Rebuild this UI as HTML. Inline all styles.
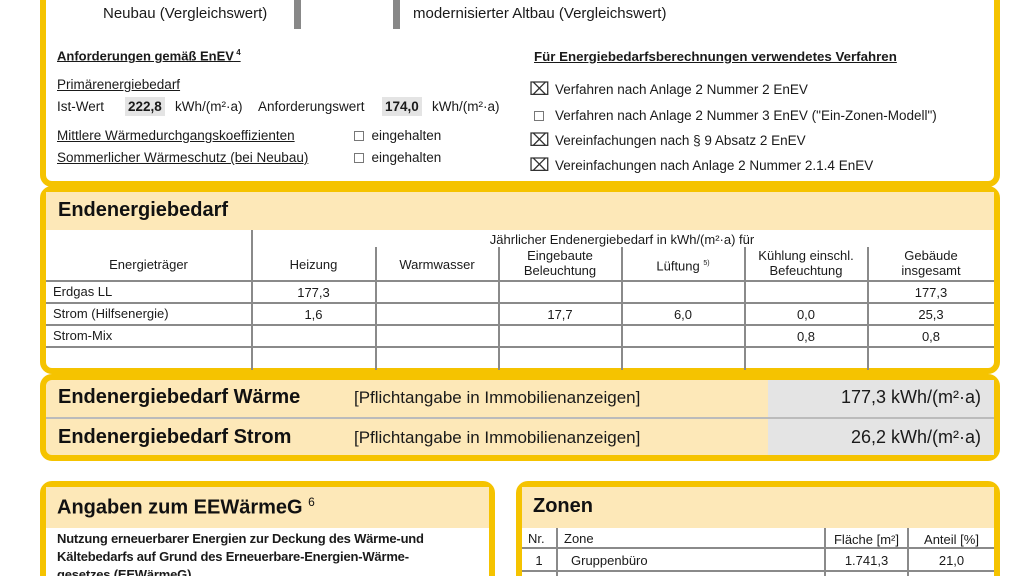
<!DOCTYPE html>
<html style="height:576px;overflow:hidden"><head><meta charset="utf-8"><style>
*{margin:0;padding:0;box-sizing:border-box}
body{width:1024px;height:576px;background:#fff;position:relative;overflow:hidden;font-family:"Liberation Sans",Arial,sans-serif;color:#1a1a1a}
.a{position:absolute;white-space:nowrap}
.box{position:absolute;border:6px solid #f5c300;border-radius:12px;background:#fff;overflow:hidden}
.band{position:absolute;background:#fde8b8}
.h{position:absolute;font-weight:bold;font-size:20px;color:#111}
.s{font-size:13.5px}
.u{text-decoration:underline}
.hl{position:absolute;height:2px;background:#8a8a8a}
.vl{position:absolute;width:2px;background:#8a8a8a}
.c{position:absolute;text-align:center;font-size:13px;line-height:15px}
.cb{display:inline-block;width:10px;height:10px;border:1px solid #777;vertical-align:-1px}
.x{position:absolute;font-size:18px;color:#333;line-height:18px}
</style></head><body>

<div class="box" style="left:40px;top:-20px;width:960px;height:207px"></div>
<div class="a" style="left:294px;top:0;width:7px;height:29px;background:#888"></div>
<div class="a" style="left:393px;top:0;width:7px;height:29px;background:#888"></div>
<div class="a" style="left:103px;top:5px;font-size:15px">Neubau (Vergleichswert)</div>
<div class="a" style="left:413px;top:5px;font-size:15px">modernisierter Altbau (Vergleichswert)</div>

<div class="a s u" style="left:57px;top:48px;font-weight:bold;font-size:13px">Anforderungen gemäß EnEV<sup style="font-size:8px"> 4</sup></div>
<div class="a s u" style="left:57px;top:77px">Primärenergiebedarf</div>
<div class="a s" style="left:57px;top:99px">Ist-Wert</div>
<div class="a s" style="left:125px;top:97px;background:#e4e4e4;padding:2px 3px;font-weight:bold">222,8</div>
<div class="a s" style="left:175px;top:99px">kWh/(m²·a)</div>
<div class="a s" style="left:258px;top:99px">Anforderungswert</div>
<div class="a s" style="left:382px;top:97px;background:#e4e4e4;padding:2px 3px;font-weight:bold">174,0</div>
<div class="a s" style="left:432px;top:99px">kWh/(m²·a)</div>
<div class="a s u" style="left:57px;top:128px">Mittlere Wärmedurchgangskoeffizienten</div>
<div class="a s" style="left:354px;top:128px"><span class="cb"></span>&nbsp; eingehalten</div>
<div class="a s u" style="left:57px;top:150px">Sommerlicher Wärmeschutz (bei Neubau)</div>
<div class="a s" style="left:354px;top:150px"><span class="cb"></span>&nbsp; eingehalten</div>

<div class="a s u" style="left:534px;top:49px;font-weight:bold;font-size:13.3px">Für Energiebedarfsberechnungen verwendetes Verfahren</div>
<div class="x" style="left:529px;top:80px">⌧</div>
<div class="a s" style="left:555px;top:82px">Verfahren nach Anlage 2 Nummer 2 EnEV</div>
<div class="a s" style="left:534px;top:108px"><span class="cb"></span></div>
<div class="a s" style="left:555px;top:108px">Verfahren nach Anlage 2 Nummer 3 EnEV ("Ein-Zonen-Modell")</div>
<div class="x" style="left:529px;top:131px">⌧</div>
<div class="a s" style="left:555px;top:133px">Vereinfachungen nach § 9 Absatz 2 EnEV</div>
<div class="x" style="left:529px;top:156px">⌧</div>
<div class="a s" style="left:555px;top:158px">Vereinfachungen nach Anlage 2 Nummer 2.1.4 EnEV</div>

<div class="box" style="left:40px;top:186px;width:960px;height:188px"></div>
<div class="band" style="left:46px;top:192px;width:948px;height:38px"></div>
<div class="h" style="left:58px;top:199px">Endenergiebedarf</div>
<div class="c" style="left:376px;top:232px;width:492px">Jährlicher Endenergiebedarf in kWh/(m²·a) für</div>
<div class="vl" style="left:251px;top:230px;height:140px"></div>
<div class="vl" style="left:375px;top:247px;height:123px"></div>
<div class="vl" style="left:498px;top:247px;height:123px"></div>
<div class="vl" style="left:621px;top:247px;height:123px"></div>
<div class="vl" style="left:744px;top:247px;height:123px"></div>
<div class="vl" style="left:867px;top:247px;height:123px"></div>
<div class="hl" style="left:46px;top:280px;width:948px"></div>
<div class="hl" style="left:46px;top:302px;width:948px"></div>
<div class="hl" style="left:46px;top:324px;width:948px"></div>
<div class="hl" style="left:46px;top:346px;width:948px"></div>
<div class="c" style="left:46px;top:257px;width:205px">Energieträger</div>
<div class="c" style="left:252px;top:257px;width:123px">Heizung</div>
<div class="c" style="left:376px;top:257px;width:122px">Warmwasser</div>
<div class="c" style="left:499px;top:248px;width:122px">Eingebaute<br>Beleuchtung</div>
<div class="c" style="left:622px;top:256px;width:122px">Lüftung <sup style="font-size:7px">5)</sup></div>
<div class="c" style="left:745px;top:248px;width:122px">Kühlung einschl.<br>Befeuchtung</div>
<div class="c" style="left:868px;top:248px;width:126px">Gebäude<br>insgesamt</div>
<div class="a s" style="left:53px;top:284px;font-size:13px">Erdgas LL</div>
<div class="a s" style="left:53px;top:306px;font-size:13px">Strom (Hilfsenergie)</div>
<div class="a s" style="left:53px;top:328px;font-size:13px">Strom-Mix</div>
<div class="c" style="left:252px;top:285px;width:123px">177,3</div>
<div class="c" style="left:868px;top:285px;width:126px">177,3</div>
<div class="c" style="left:252px;top:307px;width:123px">1,6</div>
<div class="c" style="left:499px;top:307px;width:122px">17,7</div>
<div class="c" style="left:622px;top:307px;width:122px">6,0</div>
<div class="c" style="left:745px;top:307px;width:122px">0,0</div>
<div class="c" style="left:868px;top:307px;width:126px">25,3</div>
<div class="c" style="left:745px;top:329px;width:122px">0,8</div>
<div class="c" style="left:868px;top:329px;width:126px">0,8</div>

<div class="box" style="left:40px;top:374px;width:960px;height:87px;background:#fde8b8"></div>
<div class="a" style="left:768px;top:380px;width:226px;height:75px;background:#e4e4e4"></div>
<div class="hl" style="left:46px;top:417px;width:948px;background:#bbb"></div>
<div class="h" style="left:58px;top:386px">Endenergiebedarf Wärme</div>
<div class="a" style="left:354px;top:388px;font-size:17px">[Pflichtangabe in Immobilienanzeigen]</div>
<div class="a" style="left:768px;top:387px;width:213px;text-align:right;font-size:18px">177,3 kWh/(m²·a)</div>
<div class="h" style="left:58px;top:426px">Endenergiebedarf Strom</div>
<div class="a" style="left:354px;top:428px;font-size:17px">[Pflichtangabe in Immobilienanzeigen]</div>
<div class="a" style="left:768px;top:427px;width:213px;text-align:right;font-size:18px">26,2 kWh/(m²·a)</div>

<div class="box" style="left:40px;top:481px;width:455px;height:120px"></div>
<div class="band" style="left:46px;top:487px;width:443px;height:41px"></div>
<div class="h" style="left:57px;top:495px">Angaben zum EEWärmeG <sup style="font-size:12px;font-weight:normal">6</sup></div>
<div class="a" style="left:57px;top:530px;font-size:13px;font-weight:bold;line-height:18px;letter-spacing:-0.2px">Nutzung erneuerbarer Energien zur Deckung des Wärme-und<br>Kältebedarfs auf Grund des Erneuerbare-Energien-Wärme-<br>gesetzes (EEWärmeG)</div>

<div class="box" style="left:516px;top:481px;width:484px;height:120px"></div>
<div class="band" style="left:522px;top:487px;width:472px;height:41px"></div>
<div class="h" style="left:533px;top:495px">Zonen</div>
<div class="hl" style="left:522px;top:547px;width:472px"></div>
<div class="hl" style="left:522px;top:570px;width:472px"></div>
<div class="vl" style="left:556px;top:528px;height:60px"></div>
<div class="vl" style="left:824px;top:528px;height:60px"></div>
<div class="vl" style="left:907px;top:528px;height:60px"></div>
<div class="a s" style="left:528px;top:531px;font-size:13px">Nr.</div>
<div class="a s" style="left:564px;top:531px;font-size:13px">Zone</div>
<div class="c" style="left:826px;top:532px;width:81px">Fläche [m²]</div>
<div class="c" style="left:909px;top:532px;width:85px">Anteil [%]</div>
<div class="c" style="left:522px;top:553px;width:34px">1</div>
<div class="a s" style="left:571px;top:553px;font-size:13px">Gruppenbüro</div>
<div class="c" style="left:826px;top:553px;width:81px">1.741,3</div>
<div class="c" style="left:909px;top:553px;width:85px">21,0</div>
</body></html>
